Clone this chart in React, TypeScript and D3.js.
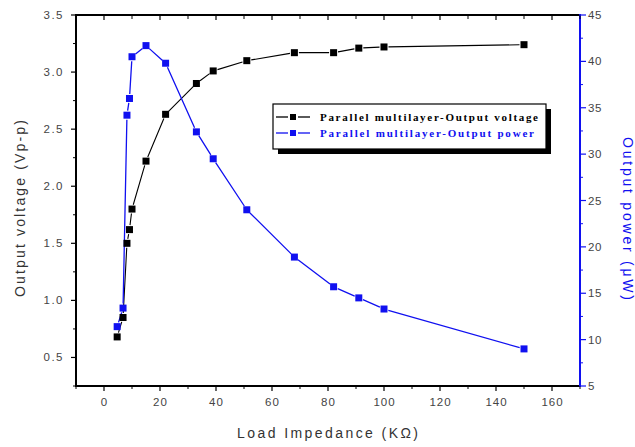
import React from "react";
import * as d3 from "d3";

const loadKOhm = [4.7, 6.8, 8.2, 9.1, 10, 15, 22, 33, 39, 51, 68, 82, 91, 100, 150];
const voltage = [0.68, 0.85, 1.5, 1.62, 1.8, 2.22, 2.63, 2.9, 3.01, 3.1, 3.17, 3.17, 3.21, 3.22, 3.24];
const power = [11.4, 13.4, 34.2, 36.0, 40.5, 41.7, 39.8, 32.4, 29.5, 24.0, 18.9, 15.7, 14.5, 13.3, 9.0];

const xTicks = [0, 20, 40, 60, 80, 100, 120, 140, 160];
const xMinor = [-10, 10, 30, 50, 70, 90, 110, 130, 150, 170];
const yLTicks = [0.5, 1.0, 1.5, 2.0, 2.5, 3.0, 3.5];
const yLMinor = [0.25, 0.75, 1.25, 1.75, 2.25, 2.75, 3.25];
const yRTicks = [5, 10, 15, 20, 25, 30, 35, 40, 45];
const yRMinor = [7.5, 12.5, 17.5, 22.5, 27.5, 32.5, 37.5, 42.5];

const legendLabels = ["Parallel multilayer-Output voltage", "Parallel multilayer-Output power"];
const BLUE = "#1010f0";
const GRAY = "#444";

function segs(pts: [number, number][], gap: number) {
  const out: string[] = [];
  for (let i = 0; i < pts.length - 1; i++) {
    const [x1, y1] = pts[i];
    const [x2, y2] = pts[i + 1];
    const dx = x2 - x1, dy = y2 - y1;
    const len = Math.hypot(dx, dy);
    if (len <= gap * 2) continue;
    const ux = dx / len, uy = dy / len;
    out.push(`M${x1 + ux * gap},${y1 + uy * gap}L${x2 - ux * gap},${y2 - uy * gap}`);
  }
  return out.join("");
}

export default function App() {
  const L = 76, R = 580, T = 15, B = 386;
  const x = d3.scaleLinear().domain([-10, 170]).range([L, R]);
  const yL = d3.scaleLinear().domain([0.25, 3.5]).range([B, T]);
  const yR = d3.scaleLinear().domain([5, 45]).range([B, T]);

  const vPts = loadKOhm.map((d, i) => [x(d), yL(voltage[i])] as [number, number]);
  const pPts = loadKOhm.map((d, i) => [x(d), yR(power[i])] as [number, number]);

  const font = "'Liberation Sans', Arial, sans-serif";

  return (
    <svg width={635} height={447} style={{ position: "absolute", left: 0, top: 0, background: "#fff" }}>
      <rect width={635} height={447} fill="#fff" />
      {/* series */}
      <path d={segs(vPts, 4.5)} stroke="#000" strokeWidth={1.1} fill="none" />
      <path d={segs(pPts, 4.5)} stroke={BLUE} strokeWidth={1.3} fill="none" />
      {vPts.map(([px, py], i) => (
        <rect key={"v" + i} x={px - 3.5} y={py - 3.5} width={7} height={7} fill="#000" />
      ))}
      {pPts.map(([px, py], i) => (
        <rect key={"p" + i} x={px - 3.5} y={py - 3.5} width={7} height={7} fill={BLUE} />
      ))}

      {/* axes lines */}
      <line x1={L} x2={R} y1={T} y2={T} stroke="#000" strokeWidth={2} />
      <line x1={L} x2={R} y1={B} y2={B} stroke="#000" strokeWidth={2} />
      <line x1={L} x2={L} y1={T - 1} y2={B + 1} stroke="#000" strokeWidth={2} />
      <line x1={R} x2={R} y1={T - 1} y2={B + 1} stroke={BLUE} strokeWidth={2} />

      {/* bottom ticks */}
      {xTicks.map((t) => (
        <g key={"xt" + t}>
          <line x1={x(t)} x2={x(t)} y1={B} y2={B + 5} stroke="#000" strokeWidth={1.2} />
          <line x1={x(t)} x2={x(t)} y1={T} y2={T + 5} stroke="#000" strokeWidth={1.2} />
          <text x={x(t) + 0.5} y={B + 20} textAnchor="middle" fontSize={11.5} letterSpacing={1} fill={GRAY} fontFamily={font}>{t}</text>
        </g>
      ))}
      {xMinor.map((t) => (
        <g key={"xm" + t}>
          <line x1={x(t)} x2={x(t)} y1={B} y2={B + 3} stroke="#000" strokeWidth={1} />
          <line x1={x(t)} x2={x(t)} y1={T} y2={T + 4} stroke="#000" strokeWidth={1} />
        </g>
      ))}

      {/* left ticks */}
      {yLTicks.map((t) => (
        <g key={"yl" + t}>
          <line x1={L - 5} x2={L} y1={yL(t)} y2={yL(t)} stroke="#000" strokeWidth={1.2} />
          <text x={L - 12} y={yL(t) + 4} textAnchor="end" fontSize={11.5} letterSpacing={1.5} fill={GRAY} fontFamily={font}>{t.toFixed(1)}</text>
        </g>
      ))}
      {yLMinor.map((t) => (
        <line key={"ylm" + t} x1={L - 3} x2={L} y1={yL(t)} y2={yL(t)} stroke="#000" strokeWidth={1} />
      ))}

      {/* right ticks */}
      {yRTicks.map((t) => (
        <g key={"yr" + t}>
          <line x1={R} x2={R + 6} y1={yR(t)} y2={yR(t)} stroke={BLUE} strokeWidth={1.2} />
          <text x={R + 8} y={yR(t) + 4} textAnchor="start" fontSize={11.5} letterSpacing={0.5} fill={GRAY} fontFamily={font}>{t}</text>
        </g>
      ))}
      {yRMinor.map((t) => (
        <line key={"yrm" + t} x1={R} x2={R + 3} y1={yR(t)} y2={yR(t)} stroke={BLUE} strokeWidth={1} />
      ))}

      {/* axis titles */}
      <text x={237} y={438} fontSize={14} fill="#333" fontFamily={font} textLength={181} lengthAdjust="spacing">Load Impedance (KΩ)</text>
      <text transform={`translate(25,297) rotate(-90)`} fontSize={14} fill="#333" fontFamily={font} textLength={177} lengthAdjust="spacing">Output voltage (Vp-p)</text>
      <text transform={`translate(623,137) rotate(90)`} fontSize={14} fill={BLUE} fontFamily={font} textLength={163} lengthAdjust="spacing">Output power (μW)</text>

      {/* legend */}
      <rect x={278} y={109} width={273} height={45} fill="#000" />
      <rect x={273} y={104} width={273} height={45} fill="#fff" stroke="#000" strokeWidth={1.2} />
      {[0, 1].map((i) => {
        const cy = 117 + i * 16;
        const col = i === 0 ? "#000" : BLUE;
        return (
          <g key={"lg" + i}>
            <line x1={276} x2={288} y1={cy} y2={cy} stroke={col} strokeWidth={1.3} />
            <line x1={298} x2={310} y1={cy} y2={cy} stroke={col} strokeWidth={1.3} />
            <rect x={290} y={cy - 3} width={6} height={6} fill={col} />
            <text x={320} y={cy + 4} fontSize={11} fontWeight="bold" fill={col} fontFamily="'Liberation Serif', 'Times New Roman', serif" textLength={i === 0 ? 218 : 214} lengthAdjust="spacing">{legendLabels[i]}</text>
          </g>
        );
      })}
    </svg>
  );
}
